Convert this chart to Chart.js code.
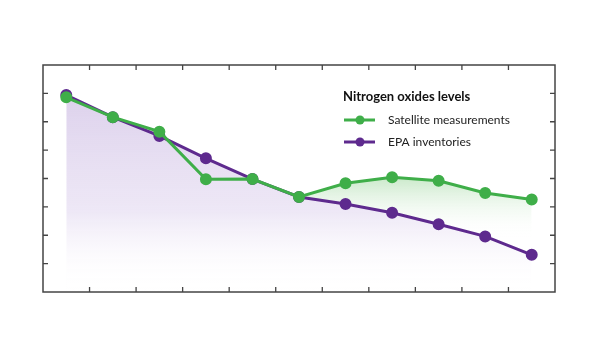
<!DOCTYPE html>
<html>
<head>
<meta charset="utf-8">
<script src="https://cdn.jsdelivr.net/npm/chart.js@4/dist/chart.umd.min.js"></script>
<style>
html,body{margin:0;padding:0;background:#fff;}
#wrap{position:relative;width:600px;height:360px;}
</style>
</head>
<body>
<div id="wrap"><canvas id="c" width="600" height="360"></canvas></div>
<script>
const categories = ['1','2','3','4','5','6','7','8','9','10','11'];
const satellite = [6.86, 6.16, 5.65, 3.97, 3.98, 3.35, 3.83, 4.04, 3.92, 3.49, 3.26];
const epa = [6.94, 6.16, 5.50, 4.71, 3.98, 3.35, 3.10, 2.79, 2.39, 1.96, 1.31];
const legendTitle = 'Nitrogen oxides levels';
const seriesNames = ['Satellite measurements', 'EPA inventories'];
const yTicks = [1,2,3,4,5,6,7];

const GREEN = '#3fae49';
const PURPLE = '#5e2a8e';

function purpleGrad(ctx){
  const ch = ctx.chart; const a = ch.chartArea;
  if(!a) return 'rgba(0,0,0,0)';
  const g = ch.ctx.createLinearGradient(0, a.top + 25, 0, a.bottom);
  g.addColorStop(0, 'rgba(214,200,232,0.85)');
  g.addColorStop(0.6, 'rgba(226,216,240,0.6)');
  g.addColorStop(1, 'rgba(255,255,255,0)');
  return g;
}
function greenGrad(ctx){
  const ch = ctx.chart; const a = ch.chartArea;
  if(!a) return 'rgba(0,0,0,0)';
  const ys = ch.scales.y;
  const g = ch.ctx.createLinearGradient(0, ys.getPixelForValue(4.0), 0, ys.getPixelForValue(1.9));
  g.addColorStop(0, 'rgba(195,230,195,0.85)');
  g.addColorStop(1, 'rgba(255,255,255,0)');
  return g;
}

const framePlugin = {
  id: 'frame',
  afterDatasetsDraw(chart){
    const {ctx, chartArea:a, scales:{x,y}} = chart;
    ctx.save();
    ctx.strokeStyle = '#444';
    ctx.lineWidth = 1.5;
    ctx.strokeRect(a.left, a.top, a.right - a.left, a.bottom - a.top);
    ctx.lineWidth = 1.3;
    ctx.beginPath();
    for(let i=0;i<categories.length-1;i++){
      const px = (x.getPixelForValue(i) + x.getPixelForValue(i+1))/2;
      ctx.moveTo(px, a.top); ctx.lineTo(px, a.top + 5);
      ctx.moveTo(px, a.bottom); ctx.lineTo(px, a.bottom - 5);
    }
    yTicks.forEach(v=>{
      const py = y.getPixelForValue(v);
      ctx.moveTo(a.left, py); ctx.lineTo(a.left + 5, py);
      ctx.moveTo(a.right, py); ctx.lineTo(a.right - 5, py);
    });
    ctx.stroke();

    // legend
    ctx.fillStyle = '#111';
    ctx.textBaseline = 'middle';
    ctx.font = 'bold 13px Lato, "Open Sans", sans-serif';
    ctx.fillText(legendTitle, 343, 97);
    const cols = [GREEN, PURPLE];
    const ys2 = [120, 142];
    ctx.font = '12px Lato, "Open Sans", sans-serif';
    for(let i=0;i<2;i++){
      ctx.strokeStyle = cols[i]; ctx.lineWidth = 3;
      ctx.beginPath(); ctx.moveTo(344, ys2[i]); ctx.lineTo(375, ys2[i]); ctx.stroke();
      ctx.fillStyle = cols[i];
      ctx.beginPath(); ctx.arc(360, ys2[i], 4.5, 0, Math.PI*2); ctx.fill();
      ctx.fillStyle = '#222';
      ctx.fillText(seriesNames[i], 388, ys2[i]);
    }
    ctx.restore();
  }
};

new Chart(document.getElementById('c'), {
  type: 'line',
  data: {
    labels: categories,
    datasets: [
      {
        label: seriesNames[0], data: satellite,
        borderColor: GREEN, backgroundColor: greenGrad, pointBackgroundColor: GREEN, pointBorderColor: GREEN,
        borderWidth: 3, pointRadius: 4.5, tension: 0,
        fill: {target: 1, above: greenGrad, below: 'rgba(0,0,0,0)'}, order: 0
      },
      {
        label: seriesNames[1], data: epa,
        borderColor: PURPLE, backgroundColor: purpleGrad, pointBackgroundColor: PURPLE, pointBorderColor: PURPLE,
        borderWidth: 3, pointRadius: 4.5, tension: 0,
        fill: 'start', order: 1
      }
    ]
  },
  options: {
    responsive: false,
    animation: false,
    layout: {padding: {left: 43, top: 65, right: 45, bottom: 68}},
    plugins: {legend: {display: false}, tooltip: {enabled: false}, filler: {drawTime: 'beforeDatasetsDraw'}},
    scales: {
      x: {display: false, offset: true},
      y: {display: false, min: 0, max: 8}
    }
  },
  plugins: [framePlugin]
});
</script>
</body>
</html>
